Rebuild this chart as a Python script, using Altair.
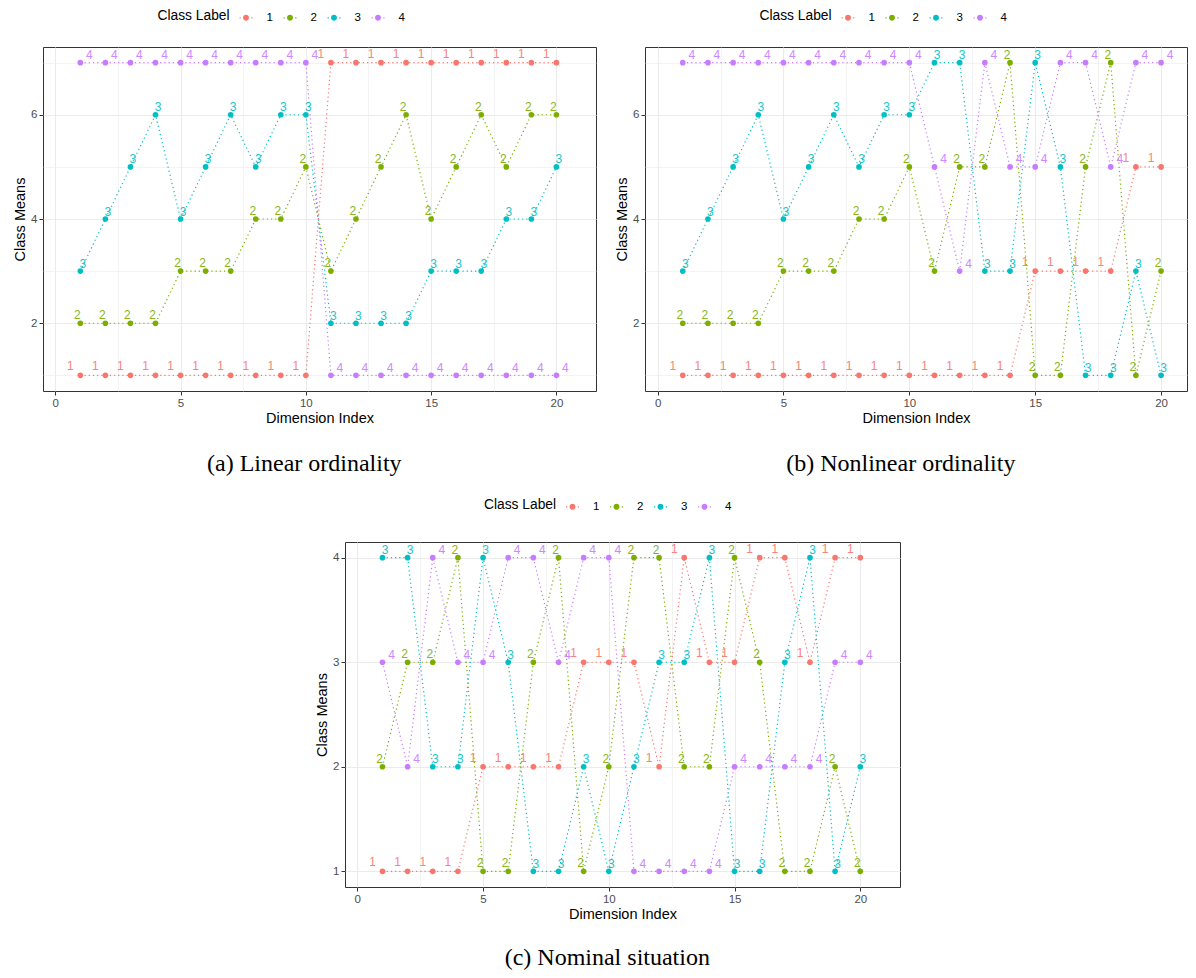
import altair as alt
import pandas as pd

# ---------------- data ----------------
DIMS = [1, 2, 3, 4, 5, 6, 7, 8, 9, 10, 11, 12, 13, 14, 15, 16, 17, 18, 19, 20]
CLASS_LABELS = ["1", "2", "3", "4"]
CLASS_COLORS = ["#F8766D", "#7CAE00", "#00BFC4", "#C77CFF"]

# (a) linear ordinality
LIN_1 = [1, 1, 1, 1, 1, 1, 1, 1, 1, 1, 7, 7, 7, 7, 7, 7, 7, 7, 7, 7]
LIN_2 = [2, 2, 2, 2, 3, 3, 3, 4, 4, 5, 3, 4, 5, 6, 4, 5, 6, 5, 6, 6]
LIN_3 = [3, 4, 5, 6, 4, 5, 6, 5, 6, 6, 2, 2, 2, 2, 3, 3, 3, 4, 4, 5]
LIN_4 = [7, 7, 7, 7, 7, 7, 7, 7, 7, 7, 1, 1, 1, 1, 1, 1, 1, 1, 1, 1]

# (b) nonlinear ordinality
NONLIN_1 = [1, 1, 1, 1, 1, 1, 1, 1, 1, 1, 1, 1, 1, 1, 3, 3, 3, 3, 5, 5]
NONLIN_2 = [2, 2, 2, 2, 3, 3, 3, 4, 4, 5, 3, 5, 5, 7, 1, 1, 5, 7, 1, 3]
NONLIN_3 = [3, 4, 5, 6, 4, 5, 6, 5, 6, 6, 7, 7, 3, 3, 7, 5, 1, 1, 3, 1]
NONLIN_4 = [7, 7, 7, 7, 7, 7, 7, 7, 7, 7, 5, 3, 7, 5, 5, 7, 7, 5, 7, 7]

# (c) nominal situation
NOM_1 = [1, 1, 1, 1, 2, 2, 2, 2, 3, 3, 3, 2, 4, 3, 3, 4, 4, 3, 4, 4]
NOM_2 = [2, 3, 3, 4, 1, 1, 3, 4, 1, 2, 4, 4, 2, 2, 4, 3, 1, 1, 2, 1]
NOM_3 = [4, 4, 2, 2, 4, 3, 1, 1, 2, 1, 2, 3, 3, 4, 1, 1, 3, 4, 1, 2]
NOM_4 = [3, 2, 4, 3, 3, 4, 4, 3, 4, 4, 1, 1, 1, 1, 2, 2, 2, 2, 3, 3]

X_TICKS = [0, 2.5, 5, 7.5, 10, 12.5, 15, 17.5, 20]
Y_TICKS_ORD = [1, 2, 3, 4, 5, 6, 7]
Y_TICKS_NOM = [1, 1.5, 2, 2.5, 3, 3.5, 4]

# ---------------- style ----------------
SANS = "Liberation Sans"
SERIF = "Liberation Serif"
LABEL_NUDGE = {"1": (-10, -9), "2": (-3, -8), "3": (2.5, -7.5), "4": (9, -7.5)}

KEY_PATH = (
    "M0.35,0A0.35,0.35,0,1,1,-0.35,0A0.35,0.35,0,1,1,0.35,0Z"
    "M0.62,-0.07h0.14v0.14h-0.14Z"
    "M-0.76,-0.07h0.14v0.14h-0.14Z"
)


def cond(test, a, b):
    return {"condition": {"test": test, "value": a}, "value": b}


def to_frame(series):
    rows = []
    for cls, vals in zip(CLASS_LABELS, series):
        for d, v in zip(DIMS, vals):
            rows.append({"dim": d, "mean": v, "cls": cls})
    return pd.DataFrame(rows)


def panel(series, caption, x_domain, y_domain, y_ticks, y_major, width, height,
          legend_x, legend_y, cap_offset):
    df = to_frame(series)
    x_major = "datum.value % 5 === 0"
    x_enc = alt.X(
        "dim:Q", title="Dimension Index",
        scale=alt.Scale(domain=x_domain, nice=False, zero=False),
        axis=alt.Axis(values=X_TICKS, format="d",
                      labelExpr=f"{x_major} ? datum.label : ''",
                      tickOpacity=cond(x_major, 1, 0),
                      gridWidth=cond(x_major, 1.1, 0.6),
                      labelOverlap=False, labelFlush=False))
    y_enc = alt.Y(
        "mean:Q", title="Class Means",
        scale=alt.Scale(domain=y_domain, nice=False, zero=False),
        axis=alt.Axis(values=y_ticks, format="d",
                      labelExpr=f"{y_major} ? datum.label : ''",
                      tickOpacity=cond(y_major, 1, 0),
                      gridWidth=cond(y_major, 1.1, 0.6),
                      labelOverlap=False, labelFlush=False))
    color_scale = alt.Scale(domain=CLASS_LABELS, range=CLASS_COLORS)
    legend = alt.Legend(
        title="Class Label", orient="none", legendX=legend_x, legendY=legend_y,
        direction="horizontal", titleOrient="left", titlePadding=7,
        titleFont=SANS, titleFontSize=13.8, titleFontWeight="normal", titleColor="black",
        titleBaseline="middle",
        labelFont=SANS, labelFontSize=11.5, labelColor="black", labelOffset=12,
        columnPadding=8, symbolType=KEY_PATH, symbolSize=289, symbolStrokeWidth=0,
        symbolOpacity=1, padding=0)
    base = alt.Chart(df)
    lines = base.mark_line(strokeDash=[1.2, 3], strokeWidth=1.2).encode(
        x=x_enc, y=y_enc,
        stroke=alt.Stroke("cls:N", scale=color_scale, legend=legend))
    points = base.mark_point(filled=True, size=32, opacity=1).encode(
        x=x_enc, y=y_enc,
        fill=alt.Fill("cls:N", scale=color_scale, legend=legend))
    labels = []
    for cls, col in zip(CLASS_LABELS, CLASS_COLORS):
        dx, dy = LABEL_NUDGE[cls]
        labels.append(
            base.transform_filter(alt.datum.cls == cls)
            .mark_text(dx=dx, dy=dy, font=SANS, fontSize=12, baseline="middle",
                       align="center", opacity=0.9, color=col)
            .encode(x=x_enc, y=y_enc, text="cls:N"))
    return alt.layer(lines, points, *labels).properties(
        width=width, height=height,
        title=alt.TitleParams(caption, orient="bottom", anchor="middle", frame="bounds",
                              font=SERIF, fontSize=24, fontWeight="normal",
                              color="black", offset=cap_offset))


def indep(c):
    return c.resolve_scale(x="independent", y="independent", fill="independent",
                           stroke="independent").resolve_legend(fill="independent",
                                                                stroke="independent")


pa = panel([LIN_1, LIN_2, LIN_3, LIN_4], "(a) Linear ordinality",
           [-0.49, 21.58], [0.7, 7.3], Y_TICKS_ORD, "datum.value % 2 === 0",
           553, 344, 114.5, -37.7, 27)
pb = panel([NONLIN_1, NONLIN_2, NONLIN_3, NONLIN_4], "(b) Nonlinear ordinality",
           [-0.5, 21.03], [0.7, 7.3], Y_TICKS_ORD, "datum.value % 2 === 0",
           542, 344, 114.5, -37.7, 27)
pc = panel([NOM_1, NOM_2, NOM_3, NOM_4], "(c) Nominal situation",
           [-0.49, 21.58], [0.85, 4.15], Y_TICKS_NOM, "datum.value % 1 === 0",
           555, 345, 139, -43.7, 25)

spacer = alt.Chart(pd.DataFrame({"v": [0]})).mark_point(opacity=0, size=1).encode(
    x=alt.value(10), y=alt.value(5)
).properties(width=270, height=10, view=alt.ViewBackground(stroke="transparent"))

top = indep(alt.hconcat(pa, pb, spacing=17))
bottom = indep(alt.hconcat(spacer, pc, spacing=0))
chart = indep(alt.vconcat(top, bottom, spacing=20))

chart = chart.properties(
    padding={"left": 4, "top": 0, "right": 0, "bottom": 0}
).configure_axis(
    labelFont=SANS, labelFontSize=11.5, labelColor="#4D4D4D", labelPadding=2,
    titleFont=SANS, titleFontSize=14.5, titleFontWeight="normal", titleColor="black",
    titlePadding=3, tickColor="#333333", tickSize=4, tickWidth=1, domain=False,
    gridColor="#EBEBEB"
).configure_view(stroke="#333333", strokeWidth=1)

chart.save("out.html", embed_options={"renderer": "svg", "actions": False})
